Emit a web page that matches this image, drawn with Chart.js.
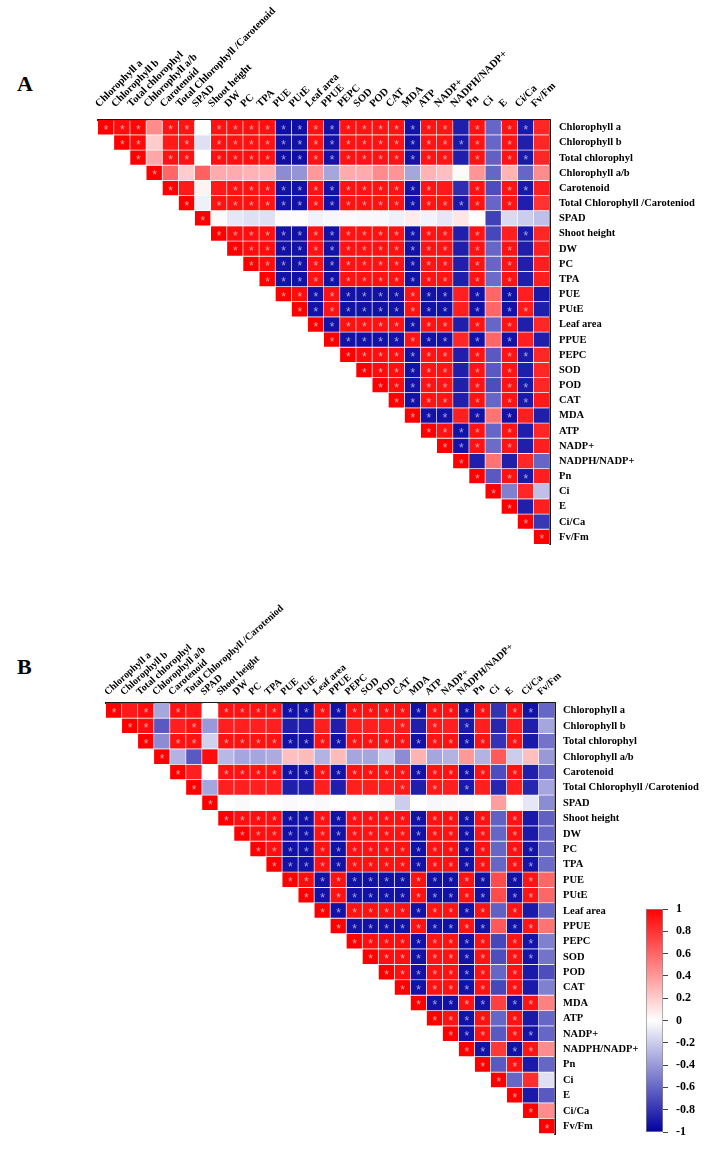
<!DOCTYPE html>
<html><head><meta charset="utf-8">
<script src="https://cdn.jsdelivr.net/npm/chart.js@4.4.0/dist/chart.umd.min.js"></script>
<style>
html,body{margin:0;padding:0;background:#fff;}
#wrap{position:relative;width:714px;height:1159px;overflow:hidden;background:#fff;}
canvas{position:absolute;}
.panel{position:absolute;font-family:"Liberation Serif","Times New Roman",serif;font-weight:bold;font-size:22px;line-height:22px;color:#000;}
</style></head><body>
<div id="wrap">
<div class="panel" style="left:17px;top:73px">A</div>
<div class="panel" style="left:17px;top:656px">B</div>
<canvas id="cA" width="714" height="560" style="left:0;top:0;width:714px;height:560px"></canvas>
<canvas id="cB" width="714" height="579" style="left:0;top:580px;width:714px;height:579px"></canvas>
<canvas id="cBar" width="114" height="260" style="left:600px;top:890px;width:114px;height:260px"></canvas>
</div>
<script>
const rowLabels = ["Chlorophyll a","Chlorophyll b","Total chlorophyl","Chlorophyll a/b","Carotenoid","Total Chlorophyll /Caroteniod","SPAD","Shoot height","DW","PC","TPA","PUE","PUtE","Leaf area","PPUE","PEPC","SOD","POD","CAT","MDA","ATP","NADP+","NADPH/NADP+","Pn","Ci","E","Ci/Ca","Fv/Fm"];
const colLabelsA = ["Chlorophyll a","Chlorophyll b","Total chlorophyl","Chlorophyll a/b","Carotenoid","Total Chlorophyll /Carotenoid","SPAD","Shoot height","DW","PC","TPA","PUE","PUtE","Leaf area","PPUE","PEPC","SOD","POD","CAT","MDA","ATP","NADP+","NADPH/NADP+","Pn","Ci","E","Ci/Ca","Fv/Fm"];
const colLabelsB = ["Chlorophyll a","Chlorophyll b","Total chlorophyl","Chlorophyll a/b","Carotenoid","Total Chlorophyll /Caroteniod","SPAD","Shoot height","DW","PC","TPA","PUE","PUtE","Leaf area","PPUE","PEPC","SOD","POD","CAT","MDA","ATP","NADP+","NADPH/NADP+","Pn","Ci","E","Ci/Ca","Fv/Fm"];

// Panel A: upper triangle, each row starts at the diagonal
const corrA = [
[1.00,0.95,0.98,0.45,0.93,0.92,0.00,0.93,0.94,0.94,0.94,-0.94,-0.94,0.93,-0.93,0.93,0.93,0.93,0.93,-0.93,0.92,0.92,-0.88,0.93,-0.60,0.92,-0.90,0.85],
[1.00,0.96,0.20,0.90,0.92,-0.12,0.93,0.93,0.93,0.93,-0.93,-0.93,0.93,-0.93,0.93,0.93,0.93,0.93,-0.93,0.92,0.92,-0.90,0.93,-0.60,0.92,-0.88,0.85],
[1.00,0.35,0.93,0.93,0.00,0.94,0.94,0.94,0.94,-0.94,-0.94,0.93,-0.93,0.93,0.93,0.93,0.93,-0.93,0.92,0.92,-0.88,0.93,-0.62,0.92,-0.90,0.85],
[1.00,0.60,0.20,0.62,0.33,0.33,0.30,0.30,-0.45,-0.42,0.40,-0.35,0.33,0.33,0.45,0.42,-0.35,0.30,0.25,0.02,0.42,-0.60,0.30,-0.60,0.45],
[1.00,0.90,0.05,0.90,0.93,0.93,0.93,-0.93,-0.93,0.93,-0.93,0.93,0.93,0.93,0.93,-0.93,0.92,0.90,-0.82,0.93,-0.70,0.92,-0.90,0.88],
[1.00,-0.06,0.93,0.93,0.93,0.93,-0.93,-0.93,0.93,-0.93,0.93,0.93,0.93,0.93,-0.93,0.92,0.92,-0.90,0.93,-0.60,0.92,-0.88,0.80],
[1.00,0.02,-0.10,-0.12,-0.12,0.02,0.01,-0.05,-0.03,-0.02,-0.03,-0.03,-0.06,0.08,-0.05,-0.10,0.10,0.00,-0.75,-0.15,-0.20,-0.25],
[1.00,0.95,0.94,0.94,-0.93,-0.93,0.93,-0.93,0.93,0.93,0.93,0.93,-0.93,0.92,0.92,-0.88,0.93,-0.72,0.88,-0.90,0.85],
[1.00,0.95,0.95,-0.93,-0.93,0.93,-0.93,0.93,0.93,0.93,0.93,-0.93,0.92,0.92,-0.88,0.93,-0.60,0.92,-0.88,0.88],
[1.00,0.95,-0.93,-0.93,0.93,-0.93,0.93,0.93,0.93,0.93,-0.93,0.92,0.92,-0.88,0.93,-0.60,0.92,-0.88,0.88],
[1.00,-0.93,-0.93,0.93,-0.93,0.93,0.93,0.93,0.93,-0.93,0.92,0.92,-0.88,0.93,-0.58,0.92,-0.88,0.88],
[1.00,0.95,-0.93,0.93,-0.93,-0.93,-0.93,-0.93,0.93,-0.93,-0.93,0.88,-0.93,0.60,-0.93,0.88,-0.90],
[1.00,-0.93,0.93,-0.93,-0.93,-0.93,-0.93,0.93,-0.93,-0.93,0.88,-0.93,0.60,-0.93,0.90,-0.88],
[1.00,-0.93,0.93,0.93,0.93,0.93,-0.93,0.92,0.92,-0.88,0.93,-0.60,0.92,-0.88,0.85],
[1.00,-0.93,-0.93,-0.93,-0.93,0.93,-0.93,-0.93,0.85,-0.93,0.60,-0.93,0.88,-0.88],
[1.00,0.95,0.94,0.94,-0.93,0.92,0.92,-0.88,0.93,-0.65,0.92,-0.90,0.85],
[1.00,0.95,0.94,-0.93,0.92,0.92,-0.88,0.93,-0.65,0.92,-0.88,0.85],
[1.00,0.95,-0.93,0.92,0.92,-0.88,0.93,-0.70,0.92,-0.90,0.85],
[1.00,-0.93,0.92,0.92,-0.88,0.93,-0.60,0.92,-0.90,0.90],
[1.00,-0.93,-0.93,0.88,-0.93,0.55,-0.93,0.88,-0.88],
[1.00,0.93,-0.93,0.93,-0.60,0.92,-0.88,0.85],
[1.00,-0.93,0.93,-0.58,0.92,-0.88,0.88],
[1.00,-0.88,0.55,-0.88,0.85,-0.60],
[1.00,-0.65,0.93,-0.90,0.88],
[1.00,-0.50,0.85,-0.25],
[1.00,-0.88,0.88],
[1.00,-0.78],
[1.00]
];
const sigA = [
[1,1,1,0,1,1,0,1,1,1,1,1,1,1,1,1,1,1,1,1,1,1,0,1,0,1,1,0],
[1,1,0,0,1,0,1,1,1,1,1,1,1,1,1,1,1,1,1,1,1,1,1,0,1,0,0],
[1,0,1,1,0,1,1,1,1,1,1,1,1,1,1,1,1,1,1,1,0,1,0,1,1,0],
[1,0,0,0,0,0,0,0,0,0,0,0,0,0,0,0,0,0,0,0,0,0,0,0,0],
[1,0,0,0,1,1,1,1,1,1,1,1,1,1,1,1,1,0,0,1,0,1,1,0],
[1,0,1,1,1,1,1,1,1,1,1,1,1,1,1,1,1,1,1,0,1,0,0],
[1,0,0,0,0,0,0,0,0,0,0,0,0,0,0,0,0,0,0,0,0,0],
[1,1,1,1,1,1,1,1,1,1,1,1,1,1,1,0,1,0,0,1,0],
[1,1,1,1,1,1,1,1,1,1,1,1,1,1,0,1,0,1,0,0],
[1,1,1,1,1,1,1,1,1,1,1,1,1,0,1,0,1,0,0],
[1,1,1,1,1,1,1,1,1,1,1,1,0,1,0,1,0,0],
[1,1,1,1,1,1,1,1,1,1,1,0,1,0,1,0,0],
[1,1,1,1,1,1,1,1,1,1,0,1,0,1,1,0],
[1,1,1,1,1,1,1,1,1,0,1,0,1,0,0],
[1,1,1,1,1,1,1,1,0,1,0,1,0,0],
[1,1,1,1,1,1,1,0,1,0,1,1,0],
[1,1,1,1,1,1,0,1,0,1,0,0],
[1,1,1,1,1,0,1,0,1,1,0],
[1,1,1,1,0,1,0,1,1,0],
[1,1,1,0,1,0,1,0,0],
[1,1,1,1,0,1,0,0],
[1,1,1,0,1,0,0],
[1,0,0,0,0,0],
[1,0,1,1,0],
[1,0,0,0],
[1,0,0],
[1,0],
[1]
];

// Panel B
const corrB = [
[1.00,0.90,0.95,-0.35,0.93,0.90,0.00,0.93,0.93,0.93,0.93,-0.93,-0.93,0.93,-0.93,0.93,0.93,0.93,0.93,-0.93,0.93,0.93,-0.93,0.93,-0.80,0.93,-0.93,-0.60],
[1.00,0.95,-0.65,0.88,0.93,-0.40,0.88,0.88,0.88,0.88,-0.88,-0.88,0.88,-0.88,0.88,0.88,0.88,0.90,-0.88,0.90,0.88,-0.90,0.88,-0.85,0.88,-0.88,-0.35],
[1.00,-0.45,0.93,0.93,-0.18,0.93,0.93,0.93,0.93,-0.93,-0.93,0.93,-0.93,0.93,0.93,0.93,0.93,-0.93,0.93,0.93,-0.93,0.93,-0.80,0.93,-0.90,-0.55],
[1.00,-0.30,-0.65,0.95,-0.28,-0.35,-0.35,-0.33,0.25,0.27,-0.30,0.27,-0.35,-0.35,-0.20,-0.45,0.30,-0.35,-0.30,0.40,-0.30,0.65,-0.20,0.25,-0.40],
[1.00,0.88,0.00,0.93,0.93,0.93,0.93,-0.93,-0.93,0.93,-0.93,0.93,0.93,0.93,0.93,-0.93,0.93,0.93,-0.93,0.93,-0.70,0.93,-0.88,-0.60],
[1.00,-0.35,0.88,0.88,0.88,0.88,-0.88,-0.88,0.88,-0.88,0.88,0.88,0.88,0.90,-0.88,0.90,0.88,-0.90,0.88,-0.85,0.88,-0.85,-0.35],
[1.00,0.00,-0.02,0.00,0.01,-0.02,-0.01,-0.02,0.00,-0.01,0.00,-0.02,-0.20,0.00,-0.03,-0.02,0.02,0.00,0.38,0.00,-0.10,-0.45],
[1.00,0.94,0.94,0.94,-0.93,-0.93,0.93,-0.93,0.93,0.93,0.93,0.93,-0.93,0.93,0.93,-0.93,0.93,-0.62,0.93,-0.90,-0.62],
[1.00,0.94,0.94,-0.93,-0.93,0.93,-0.93,0.93,0.93,0.93,0.93,-0.93,0.93,0.93,-0.93,0.93,-0.60,0.93,-0.90,-0.60],
[1.00,0.94,-0.93,-0.93,0.93,-0.93,0.93,0.93,0.93,0.93,-0.93,0.93,0.93,-0.93,0.93,-0.60,0.93,-0.92,-0.60],
[1.00,-0.93,-0.93,0.93,-0.93,0.93,0.93,0.93,0.93,-0.93,0.93,0.93,-0.93,0.93,-0.60,0.93,-0.92,-0.58],
[1.00,0.95,-0.93,0.93,-0.93,-0.93,-0.93,-0.93,0.93,-0.93,-0.93,0.93,-0.93,0.70,-0.93,0.92,0.60],
[1.00,-0.93,0.93,-0.93,-0.93,-0.93,-0.93,0.93,-0.93,-0.93,0.93,-0.93,0.70,-0.93,0.92,0.60],
[1.00,-0.93,0.93,0.93,0.93,0.93,-0.93,0.93,0.93,-0.93,0.93,-0.62,0.93,-0.90,-0.60],
[1.00,-0.93,-0.93,-0.93,-0.93,0.93,-0.93,-0.93,0.93,-0.93,0.65,-0.93,0.92,0.55],
[1.00,0.94,0.94,0.94,-0.93,0.93,0.93,-0.93,0.93,-0.72,0.93,-0.92,-0.50],
[1.00,0.94,0.94,-0.93,0.93,0.93,-0.93,0.93,-0.70,0.93,-0.92,-0.55],
[1.00,0.94,-0.93,0.93,0.93,-0.93,0.93,-0.60,0.93,-0.90,-0.70],
[1.00,-0.93,0.93,0.93,-0.93,0.93,-0.72,0.93,-0.90,-0.50],
[1.00,-0.93,-0.93,0.93,-0.93,0.75,-0.93,0.92,0.50],
[1.00,0.93,-0.93,0.93,-0.60,0.93,-0.90,-0.60],
[1.00,-0.93,0.93,-0.65,0.93,-0.92,-0.60],
[1.00,-0.93,0.78,-0.93,0.92,0.45],
[1.00,-0.65,0.93,-0.90,-0.60],
[1.00,-0.60,0.82,-0.12],
[1.00,-0.90,-0.65],
[1.00,0.45],
[1.00]
];
const sigB = [
[1,0,1,0,1,0,0,1,1,1,1,1,1,1,1,1,1,1,1,1,1,1,1,1,0,1,1,0],
[1,1,0,0,1,0,0,0,0,0,0,0,0,0,0,0,0,1,0,1,0,1,0,0,0,0,0],
[1,0,1,1,0,1,1,1,1,1,1,1,1,1,1,1,1,1,1,1,1,1,0,1,0,0],
[1,0,0,0,0,0,0,0,0,0,0,0,0,0,0,0,0,0,0,0,0,0,0,0,0],
[1,0,0,1,1,1,1,1,1,1,1,1,1,1,1,1,1,1,1,1,0,1,0,0],
[1,0,0,0,0,0,0,0,0,0,0,0,0,1,0,1,0,1,0,0,0,0,0],
[1,0,0,0,0,0,0,0,0,0,0,0,0,0,0,0,0,0,0,0,0,0],
[1,1,1,1,1,1,1,1,1,1,1,1,1,1,1,1,1,0,1,0,0],
[1,1,1,1,1,1,1,1,1,1,1,1,1,1,1,1,0,1,0,0],
[1,1,1,1,1,1,1,1,1,1,1,1,1,1,1,0,1,1,0],
[1,1,1,1,1,1,1,1,1,1,1,1,1,1,0,1,1,0],
[1,1,1,1,1,1,1,1,1,1,1,1,1,0,1,1,0],
[1,1,1,1,1,1,1,1,1,1,1,1,0,1,1,0],
[1,1,1,1,1,1,1,1,1,1,1,0,1,0,0],
[1,1,1,1,1,1,1,1,1,1,0,1,1,0],
[1,1,1,1,1,1,1,1,1,0,1,1,0],
[1,1,1,1,1,1,1,1,0,1,1,0],
[1,1,1,1,1,1,1,0,1,0,0],
[1,1,1,1,1,1,0,1,0,0],
[1,1,1,1,1,0,1,1,0],
[1,1,1,1,0,1,0,0],
[1,1,1,0,1,1,0],
[1,1,0,1,1,0],
[1,0,1,0,0],
[1,0,0,0],
[1,0,0],
[1,0],
[1]
];

const colorbarTicks = [-1,-0.8,-0.6,-0.4,-0.2,0,0.2,0.4,0.6,0.8,1];
const colorbarTickLabels = ["-1","-0.8","-0.6","-0.4","-0.2","0","0.2","0.4","0.6","0.8","1"];

function colorFor(v){
  if (v >= 0){
    const g = Math.round(255*(1-v));
    return `rgb(255,${g},${g})`;
  }
  const t = -v;
  const g = Math.round(255*(1-t));
  const b = Math.round(255 - (255-160)*t);
  return `rgb(${g},${g},${b})`;
}

const SERIF = "'Liberation Serif','Times New Roman',serif";

function buildMatrix(id, corr, sig, colLabels, geo){
  const n = rowLabels.length;
  const datasets = corr.map((row, r) => ({
    data: colLabels.map((_, c) => c >= r ? [r, r+1] : null),
    backgroundColor: colLabels.map((_, c) => c >= r ? colorFor(row[c-r]) : 'rgba(0,0,0,0)'),
    borderColor: 'rgba(255,255,255,0.45)',
    borderWidth: {top:0,left:0,right:1,bottom:1},
    borderSkipped: false,
    grouped: false,
    categoryPercentage: 1,
    barPercentage: 1
  }));
  const starPlugin = {
    id: 'stars_'+id,
    afterDatasetsDraw(chart){
      const ctx = chart.ctx;
      ctx.save();
      ctx.font = "12px 'Liberation Sans', Arial, sans-serif";
      ctx.textAlign = 'center';
      ctx.textBaseline = 'middle';
      ctx.fillStyle = 'rgba(255,255,255,0.6)';
      corr.forEach((row, r) => {
        const meta = chart.getDatasetMeta(r);
        meta.data.forEach((el, c) => {
          if (c < r || !sig[r][c-r]) return;
          const cy = (el.y + el.base)/2;
          ctx.fillText('*', el.x, cy + geo.starDy);
        });
      });
      ctx.restore();
    }
  };
  return new Chart(document.getElementById(id), {
    type: 'bar',
    data: { labels: colLabels, datasets },
    options: {
      responsive: false, animation: false, devicePixelRatio: 1,
      layout: { padding: { left: geo.left, top: 0, right: 0, bottom: geo.bottom } },
      plugins: { legend: {display:false}, tooltip: {enabled:false} },
      scales: {
        x: {
          type: 'category', position: 'top', offset: true,
          grid: {display:false, drawTicks:false},
          border: {display:true, color:'#1a1a1a', width:2},
          ticks: {autoSkip:false, minRotation: geo.rot, maxRotation: geo.rot, padding: geo.xPad, color:'#000',
                  font:{family:SERIF, weight:'bold', size: geo.xFont}},
          afterFit(axis){ axis.height = geo.xHeight; }
        },
        y: {
          type: 'linear', position: 'right', min: 0, max: n, reverse: true,
          grid: {display:false, drawTicks:false},
          border: {display:true, color:'#1a1a1a', width:2},
          afterBuildTicks(axis){ axis.ticks = rowLabels.map((_, i) => ({value: i + 0.5})); },
          ticks: {autoSkip:false, padding: geo.yPad, color:'#000',
                  font:{family:SERIF, weight:'bold', size: geo.yFont},
                  callback: (v, i) => rowLabels[i]},
          afterFit(axis){ axis.width = geo.yWidth; }
        }
      }
    },
    plugins: [starPlugin]
  });
}

buildMatrix('cA', corrA, sigA, colLabelsA, {left:98, bottom:7, xHeight:120, yWidth:164, rot:45, xPad:10, xFont:10.5, yFont:10.5, yPad:9, starDy:3});
buildMatrix('cB', corrB, sigB, colLabelsB, {left:106, bottom:25, xHeight:123, yWidth:159, rot:42, xPad:5, xFont:10, yFont:10.5, yPad:8, starDy:3});

new Chart(document.getElementById('cBar'), {
  type: 'bar',
  data: { labels: [''], datasets: [{
    data: [[-1, 1]],
    backgroundColor(ctx){
      const chart = ctx.chart; const area = chart.chartArea;
      if (!area) return 'rgba(0,0,0,0)';
      const g = chart.ctx.createLinearGradient(0, area.bottom, 0, area.top);
      colorbarTicks.forEach(v => g.addColorStop((v+1)/2, colorFor(v)));
      return g;
    },
    borderColor: '#888', borderWidth: 1, borderSkipped: false,
    categoryPercentage: 1, barPercentage: 1
  }]},
  options: {
    responsive: false, animation: false, devicePixelRatio: 1,
    layout: { padding: { left: 46, top: 19, right: 0, bottom: 18 } },
    plugins: { legend: {display:false}, tooltip: {enabled:false} },
    scales: {
      x: { display: false },
      y: {
        position: 'right', min: -1, max: 1,
        afterBuildTicks(axis){ axis.ticks = colorbarTicks.map(v => ({value: v})); },
        grid: {drawOnChartArea:false, drawTicks:true, tickLength:5, color:'#444', lineWidth:1},
        border: {display:false},
        ticks: {autoSkip:false, padding:8, color:'#000', font:{family:SERIF, weight:'bold', size:12},
                callback: (v, i) => colorbarTickLabels[i]},
        afterFit(axis){ axis.width = 51; }
      }
    }
  }
});
</script>
</body></html>
